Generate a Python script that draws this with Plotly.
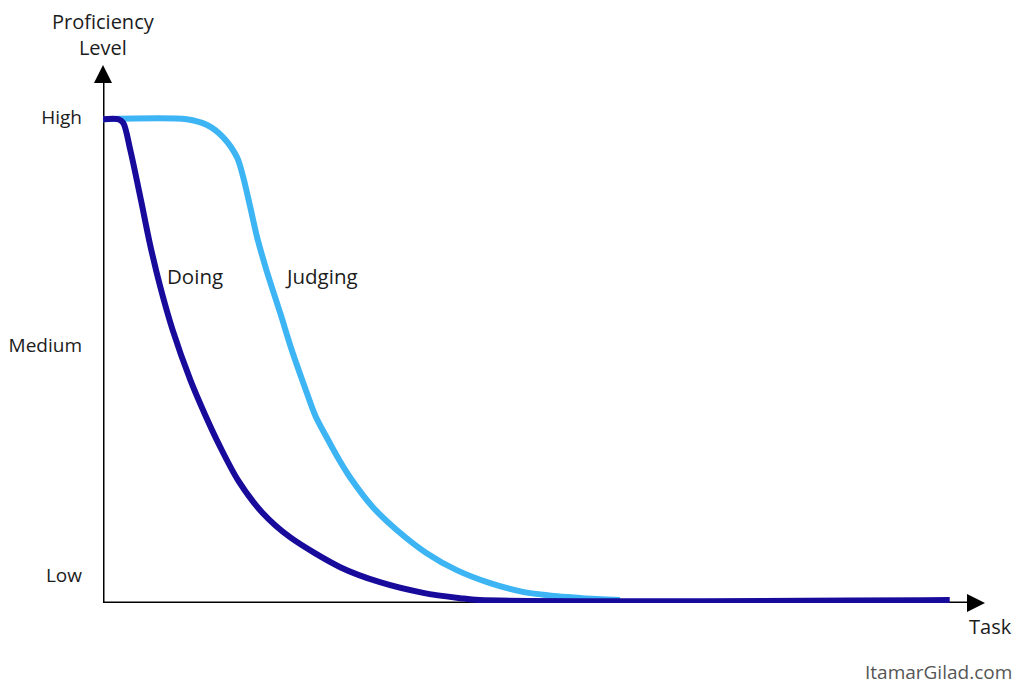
"""Doing vs Judging proficiency curves."""

import plotly.graph_objects as go

# task axis runs 0..100, proficiency 0 (low) .. 1 (high)
doing_x = [0, 1.7, 2.3, 3.1, 4.3, 5.3, 6.5, 7.9, 9.9, 11.6, 13.3, 15.3, 18.1,
           21.2, 26.9, 31.4, 36.3, 40.5, 42.7, 96.0]
doing_y = [1.0, 1.0, 0.992, 0.936, 0.833, 0.744, 0.653, 0.564, 0.461, 0.388,
           0.322, 0.254, 0.186, 0.136, 0.074, 0.043, 0.021, 0.010, 0.006,
           0.006]

judging_x = [0, 9.5, 11.8, 13.6, 15.2, 15.9, 16.7, 17.5, 18.6, 20.1, 21.4, 22.8,
             24.1, 25.4, 26.8, 28.0, 30.6, 33.3, 36.7, 40.1, 43.9, 47.6, 51.5,
             54.4, 58.6]
judging_y = [1.0, 1.0, 0.988, 0.963, 0.921, 0.88, 0.818, 0.754, 0.684, 0.599,
             0.523, 0.450, 0.386, 0.341, 0.295, 0.26, 0.198, 0.151, 0.103,
             0.068, 0.041, 0.023, 0.014, 0.010, 0.006]

level_vals = [1.004, 0.533, 0.058]
level_text = ["High", "Medium", "Low"]

FONT = "Open Sans"
TEXT = "#1c1c1c"
FS = 19      # tick labels
FA = 20.5    # other labels

fig = go.Figure()
fig.add_trace(go.Scatter(x=judging_x, y=judging_y, mode="lines", name="Judging",
                         line=dict(color="#3db4f3", width=6, shape="spline", smoothing=0.8),
                         hoverinfo="skip"))
fig.add_trace(go.Scatter(x=doing_x, y=doing_y, mode="lines", name="Doing",
                         line=dict(color="#180b9c", width=6, shape="spline", smoothing=0.8),
                         hoverinfo="skip"))

# axis lines underneath the curves, arrow tips on top
fig.add_shape(type="line", x0=0, y0=0, x1=99, y1=0, layer="below",
              line=dict(color="black", width=3))
fig.add_shape(type="line", x0=0, y0=0, x1=0, y1=1.10, layer="below",
              line=dict(color="black", width=3))
fig.add_annotation(x=100, y=0, ax=98.5, ay=0, axref="x", ayref="y", text="",
                   showarrow=True, arrowhead=2, arrowsize=1.2, arrowwidth=3,
                   arrowcolor="black")
fig.add_annotation(x=0, y=1.112, ax=0, ay=1.08, axref="x", ayref="y", text="",
                   showarrow=True, arrowhead=2, arrowsize=1.2, arrowwidth=3,
                   arrowcolor="black")

fig.add_annotation(x=10.4, y=0.676, text="Doing", showarrow=False,
                   font=dict(size=FA, color=TEXT))
fig.add_annotation(x=24.8, y=0.676, text="Judging", showarrow=False,
                   font=dict(size=FA, color=TEXT))
fig.add_annotation(x=0, xref="x", y=1.0558, yref="paper",
                   text="Proficiency<br>Level",
                   xanchor="center", yanchor="middle",
                   showarrow=False, font=dict(size=20, color=TEXT))
fig.add_annotation(x=1.033, xref="paper", y=-0.043, yref="paper", text="Task",
                   xanchor="right", yanchor="middle",
                   showarrow=False, font=dict(size=20, color=TEXT))
fig.add_annotation(x=1.033, xref="paper", y=-0.128, yref="paper",
                   text="ItamarGilad.com", xanchor="right", yanchor="middle",
                   showarrow=False, font=dict(size=19, color="#555555"))

fig.update_xaxes(range=[0, 100], showgrid=False, zeroline=False, showline=False,
                 showticklabels=False, ticks="", automargin=False)
fig.update_yaxes(range=[0, 1.112], showgrid=False, zeroline=False, showline=False,
                 tickvals=level_vals, ticktext=level_text, ticks="", automargin=False,
                 ticklabelstandoff=20, tickfont=dict(size=FS, color=TEXT))

fig.update_layout(
    width=1008, height=679,
    margin=dict(l=95, r=31, t=57, b=84),
    plot_bgcolor="white", paper_bgcolor="white",
    showlegend=False,
    font=dict(family=FONT, color=TEXT),
)

fig.write_html("out.html")
